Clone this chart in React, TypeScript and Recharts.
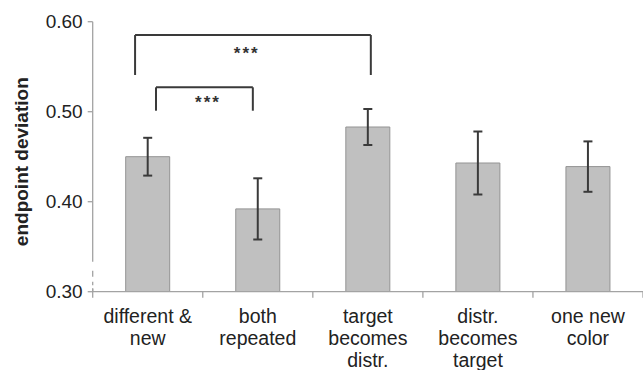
import React from "react";
import {
  BarChart,
  Bar,
  XAxis,
  YAxis,
  ErrorBar,
  ReferenceLine,
  ReferenceDot,
  Label,
} from "recharts";

const CATEGORIES = [
  "different &\nnew",
  "both\nrepeated",
  "target\nbecomes\ndistr.",
  "distr.\nbecomes\ntarget",
  "one new\ncolor",
];
const MEANS = [0.45, 0.392, 0.483, 0.443, 0.439];
const ERRORS = [0.021, 0.034, 0.02, 0.035, 0.028];
const Y_TICKS = [0.3, 0.4, 0.5, 0.6];

// significance brackets, x in category units (0..5), y in data units
const BRACKET_FROM = [0.385, 0.575];
const BRACKET_TO = [2.527, 1.455];
const BRACKET_TOP = [0.5852, 0.5271];
const BRACKET_LEG = [0.5408, 0.5011];
const STARS_X = [1.4, 1.048];
const STARS_Y = [0.5652, 0.5108];

const FONT = "'Liberation Sans', Arial, sans-serif";
const TEXT = "#222";
const AXIS = "#a3a3a3";
const INK = "#3a3a3a";

const data = CATEGORIES.map((name, i) => ({
  name,
  pos: i + 0.5,
  mean: MEANS[i],
  err: ERRORS[i],
}));

function CategoryTick(props: any) {
  const { x, y, payload, index, width } = props;
  const half = payload?.offset || width / CATEGORIES.length / 2;
  const lines = String(payload.value).split("\n");
  return (
    <g>
      {index === 0 && (
        <line x1={x - half} x2={x - half} y1={y - 3} y2={y + 6} stroke={AXIS} strokeWidth={1.3} />
      )}
      <line x1={x + half} x2={x + half} y1={y} y2={y + 6} stroke={AXIS} strokeWidth={1.3} />
      <text x={x} y={y} textAnchor="middle" fontSize={19.5} fill={TEXT} fontFamily={FONT}>
        {lines.map((l, i) => (
          <tspan key={i} x={x} dy={i === 0 ? 31.5 : 22}>
            {l}
          </tspan>
        ))}
      </text>
    </g>
  );
}

function YLabel(props: any) {
  const vb = props.viewBox || { x: 0, y: 0, width: 0, height: 0 };
  const cx = vb.x + 22;
  const cy = vb.y + vb.height / 2 + 5;
  return (
    <text
      x={cx}
      y={cy}
      transform={`rotate(-90 ${cx} ${cy})`}
      textAnchor="middle"
      dominantBaseline="central"
      fontSize={19}
      fontWeight="bold"
      fill={TEXT}
      fontFamily={FONT}
    >
      endpoint deviation
    </text>
  );
}

export default function App() {
  return (
    <div style={{ position: "absolute", left: 0, top: 0, background: "#fff" }}>
      <BarChart
        width={643}
        height={370}
        data={data}
        margin={{ top: 21.7, right: 0, bottom: 0, left: 0 }}
      >
        <XAxis
          dataKey="name"
          height={78.3}
          interval={0}
          tickLine={false}
          tickSize={0}
          tickMargin={0}
          axisLine={{ stroke: AXIS, strokeWidth: 1.3 }}
          tick={<CategoryTick />}
        />
        <XAxis
          xAxisId="n"
          dataKey="pos"
          type="number"
          domain={[0, CATEGORIES.length]}
          allowDataOverflow
          hide
        />
        <YAxis
          width={92.7}
          domain={[0.3, 0.6]}
          ticks={Y_TICKS}
          allowDataOverflow
          tickFormatter={(v: number) => v.toFixed(2)}
          tickSize={5}
          tickMargin={5}
          tickLine={{ stroke: AXIS, strokeWidth: 1.3 }}
          axisLine={{ stroke: AXIS, strokeWidth: 1.3, strokeDasharray: "240 9 6 5 3.5 3 30" }}
          tick={{ fontSize: 19, fill: TEXT, fontFamily: FONT }}
        >
          <Label content={<YLabel />} />
        </YAxis>
        <Bar
          dataKey="mean"
          barSize={44}
          fill="#c0c0c0"
          stroke="#939393"
          strokeWidth={1}
          isAnimationActive={false}
        >
          <ErrorBar dataKey="err" width={4.5} stroke={INK} strokeWidth={2} isAnimationActive={false} />
        </Bar>
        {BRACKET_FROM.map((from, i) => (
          <React.Fragment key={i}>
            <ReferenceLine
              xAxisId="n"
              ifOverflow="visible"
              stroke={INK}
              strokeWidth={2}
              segment={[
                { x: from, y: BRACKET_LEG[i] },
                { x: from, y: BRACKET_TOP[i] },
              ]}
            />
            <ReferenceLine
              xAxisId="n"
              ifOverflow="visible"
              stroke={INK}
              strokeWidth={2}
              segment={[
                { x: from, y: BRACKET_TOP[i] },
                { x: BRACKET_TO[i], y: BRACKET_TOP[i] },
              ]}
            />
            <ReferenceLine
              xAxisId="n"
              ifOverflow="visible"
              stroke={INK}
              strokeWidth={2}
              segment={[
                { x: BRACKET_TO[i], y: BRACKET_TOP[i] },
                { x: BRACKET_TO[i], y: BRACKET_LEG[i] },
              ]}
            />
            <ReferenceDot
              xAxisId="n"
              x={STARS_X[i]}
              y={STARS_Y[i]}
              r={0}
              fill="none"
              stroke="none"
              ifOverflow="visible"
              label={{
                value: "***",
                position: "center",
                fontSize: 17,
                fontWeight: "bold",
                fill: "#333",
                fontFamily: FONT,
                letterSpacing: 2,
              }}
            />
          </React.Fragment>
        ))}
      </BarChart>
    </div>
  );
}
